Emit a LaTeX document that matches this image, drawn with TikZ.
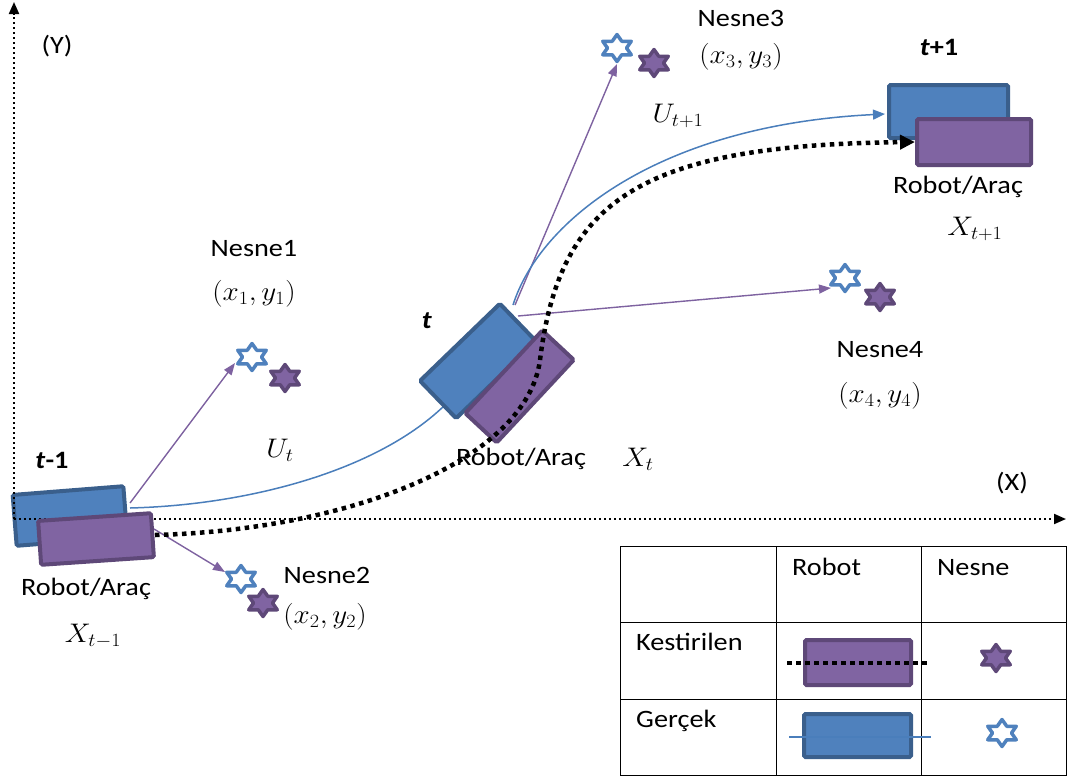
\documentclass[tikz,border=0pt]{standalone}
\usepackage{fontspec}
\usepackage{graphicx}
\setmainfont[FakeStretch=1.13]{Carlito}
\usetikzlibrary{arrows.meta}
\definecolor{realfill}{HTML}{4F81BD}
\definecolor{realedge}{HTML}{3A5F8C}
\definecolor{estfill}{HTML}{8064A2}
\definecolor{estedge}{HTML}{5E4878}
\definecolor{pathblue}{HTML}{4A7EBB}
\definecolor{obsline}{HTML}{7E62A0}
\newcommand{\mth}[1]{\scalebox{1.17}[1.08]{$#1$}}
\tikzset{
  realbox/.style={draw=realedge, fill=realfill, line width=4pt, rounded corners=1.5pt, inner sep=0pt},
  estbox/.style={draw=estedge, fill=estfill, line width=4pt, rounded corners=1.5pt, inner sep=0pt},
  lbl/.style={inner sep=0pt, anchor=base},
  lbll/.style={inner sep=0pt, anchor=base west},
  axisline/.style={line width=2pt, dash pattern=on 2pt off 3pt, -{Triangle[length=12pt,width=10pt]}},
  obsarrow/.style={obsline, line width=1.4pt, -{Triangle[length=12pt,width=9pt]}},
  truepath/.style={pathblue, line width=1.5pt},
  estpath/.style={black, line width=4.5pt, dash pattern=on 4.5pt off 4.5pt},
  hexa/.style={line join=round},
  truestar/.pic={\draw[hexa, draw=realfill, fill=white, line width=3.5pt, xscale=1.22]
    (0,-13.5) -- (3.9,-6.75) -- (11.69,-6.75) -- (7.79,0) -- (11.69,6.75) -- (3.9,6.75)
    -- (0,13.5) -- (-3.9,6.75) -- (-11.69,6.75) -- (-7.79,0) -- (-11.69,-6.75) -- (-3.9,-6.75) -- cycle;},
  eststar/.pic={\draw[hexa, draw=estedge, fill=estfill, line width=3.5pt, xscale=1.22]
    (0,-13.5) -- (3.9,-6.75) -- (11.69,-6.75) -- (7.79,0) -- (11.69,6.75) -- (3.9,6.75)
    -- (0,13.5) -- (-3.9,6.75) -- (-11.69,6.75) -- (-7.79,0) -- (-11.69,-6.75) -- (-3.9,-6.75) -- cycle;}
}
\begin{document}
\begin{tikzpicture}[x=1pt, y=-1pt, font=\fontsize{25}{30}\selectfont]
\useasboundingbox (0,0) rectangle (1069,780);

% landmarks: true (outline) and estimated (filled) positions
\pic at (252,357) {truestar};
\pic at (285,378) {eststar};
\pic at (241,579) {truestar};
\pic at (263,603) {eststar};
\pic at (617,48)  {truestar};
\pic at (654,63)  {eststar};
\pic at (845,278) {truestar};
\pic at (880,297) {eststar};

% observation rays from the robot to the landmarks
\coordinate (o1s) at (130,503);  \coordinate (o1e) at (235,363);
\coordinate (o2s) at (154,529);  \coordinate (o2e) at (225,572);
\coordinate (o3s) at (515,305);  \coordinate (o3e) at (617,64);
\coordinate (o4s) at (518,316);  \coordinate (o4e) at (831,288);
\draw[obsarrow] (o1s) -- (o1e);
\draw[obsarrow] (o2s) -- (o2e);
\draw[obsarrow] (o3s) -- (o3e);
\draw[obsarrow] (o4s) -- (o4e);

% true trajectory
\coordinate (p0) at (130,508);
\coordinate (p1) at (447,403);
\coordinate (p2) at (513,305);
\coordinate (p3) at (885,114);
\draw[truepath] (p0) .. controls (250,505) and (380,470) .. (p1);
\draw[truepath, -{Triangle[length=12pt,width=10pt]}] (p2) .. controls (540,220) and (660,125) .. (p3);

% robot poses
\node[realbox, minimum width=111pt, minimum height=51pt, rotate=4.5] (r0) at (70,516) {};
\node[realbox, minimum width=111pt, minimum height=52pt, rotate=44] (r1) at (478,361) {};
\node[realbox, minimum width=119pt, minimum height=53pt] (r2) at (948.5,111.5) {};

% axes
\coordinate (org) at (14,519);
\coordinate (ytop) at (14,2);
\coordinate (xend) at (1066,519);
\draw[axisline] (org) -- (ytop);
\draw[axisline] (org) -- (xend);

\node[estbox, minimum width=113pt, minimum height=44pt, rotate=3.9] (e0) at (96,539) {};
\node[estbox, minimum width=113pt, minimum height=43pt, rotate=47] (e1) at (519.5,386.5) {};
\node[estbox, minimum width=114pt, minimum height=46pt] (e2) at (974,142) {};

% estimated trajectory
\coordinate (q0) at (155,535);
\coordinate (q1) at (540,360);
\coordinate (q2) at (915,142);
\draw[estpath] (q0) .. controls (350,530) and (527,460) .. (q1);
\draw[estpath, -{Triangle[length=15pt,width=14pt]}] (q1) .. controls (560,200) and (640,145) .. (q2);

% labels
\node[lbl] (ly) at (57,53) {(Y)};
\node[lbl] (lx) at (1012,490) {(X)};
\node[lbl] (t0) at (52,468) {\textbf{\textit{t}-1}};
\node[lbl] (t1) at (427,328) {\textbf{\textit{t}}};
\node[lbl] (t2) at (939,55) {\textbf{\textit{t}+1}};

\node[lbl] (n1) at (254,256) {Nesne1};
\node[lbl] (n1c) at (254,300) {\mth{(x_1,y_1)}};
\node[lbl] (n2) at (327,583) {Nesne2};
\node[lbl] (n2c) at (325,623) {\mth{(x_2,y_2)}};
\node[lbl] (n3) at (741,26) {Nesne3};
\node[lbl] (n3c) at (741,63) {\mth{(x_3,y_3)}};
\node[lbl] (n4) at (880,357) {Nesne4};
\node[lbl] (n4c) at (880,402) {\mth{(x_4,y_4)}};

\node[lbl] (u0) at (280,457) {\mth{U_t}};
\node[lbl] (u1) at (678,122) {\mth{U_{t+1}}};

\node[lbl] (ra0) at (86,595) {Robot/Araç};
\node[lbl] (x0) at (93,642) {\mth{X_{t-1}}};
\node[lbl] (ra1) at (521,465) {Robot/Araç};
\node[lbl] (x1) at (638,466) {\mth{X_t}};
\node[lbl] (ra2) at (958,193) {Robot/Araç};
\node[lbl] (x2) at (975,235) {\mth{X_{t+1}}};

% legend table
\draw[line width=1pt] (620,546) rectangle (1066,775);
\draw[line width=1pt] (776,546) -- (776,775);
\draw[line width=1pt] (921,546) -- (921,775);
\draw[line width=1pt] (620,622) -- (1066,622);
\draw[line width=1pt] (620,699) -- (1066,699);

\node[lbll] (hr) at (792,575) {Robot};
\node[lbll] (hn) at (937,575) {Nesne};
\node[lbll] (rk) at (636,650) {Kestirilen};
\node[lbll] (rg) at (636,727) {Gerçek};

\node[estbox, minimum width=106pt, minimum height=45pt] (le) at (858,662.5) {};
\coordinate (led0) at (787,663);
\coordinate (led1) at (930,663);
\draw[estpath] (led0) -- (led1);
\node[realbox, minimum width=107pt, minimum height=43pt] (lr) at (857.5,735.5) {};
\coordinate (lrl0) at (789,737);
\coordinate (lrl1) at (931,737);
\draw[truepath] (lrl0) -- (lrl1);
\pic at (996,658) {eststar};
\pic at (1002,733) {truestar};
\end{tikzpicture}
\end{document}
